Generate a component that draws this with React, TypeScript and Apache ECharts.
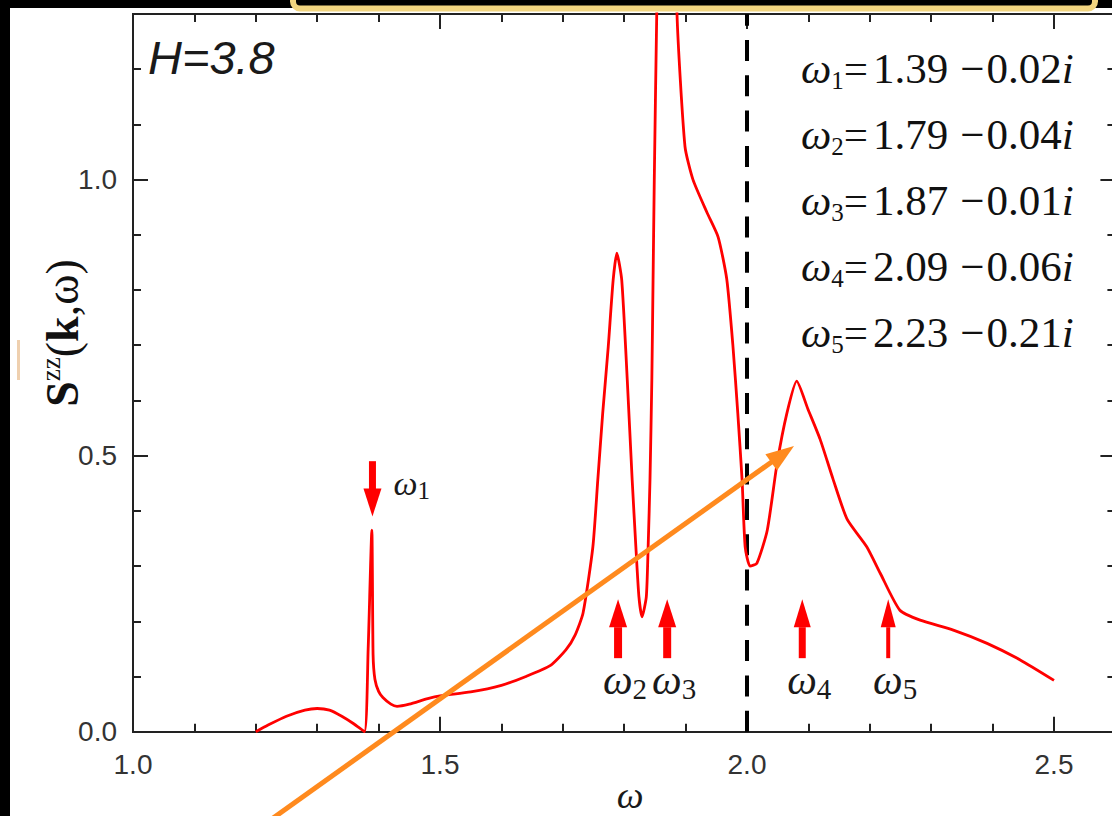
import React, { useEffect, useRef } from "react";
import * as echarts from "echarts";

// ---- data ----
const omega = [
  1.2, 1.22, 1.25, 1.28, 1.3, 1.32, 1.34, 1.36, 1.377, 1.383, 1.389, 1.391, 1.394, 1.4, 1.407,
  1.42, 1.43, 1.45, 1.48, 1.5, 1.55, 1.6, 1.64, 1.68, 1.705, 1.72, 1.733, 1.749, 1.757, 1.765,
  1.774, 1.782, 1.788, 1.796, 1.805, 1.813, 1.819, 1.824, 1.829, 1.836, 1.839, 1.842, 1.845,
  1.847, 1.849, 1.853, 1.868, 1.886, 1.899, 1.912, 1.935, 1.953, 1.967, 1.977, 1.985, 1.992,
  1.997, 2.005, 2.016, 2.033, 2.049, 2.065, 2.081, 2.099, 2.119, 2.14, 2.163, 2.195, 2.217,
  2.249, 2.282, 2.336, 2.391, 2.445, 2.5,
];
const szz = [
  0.0, 0.012, 0.028, 0.039, 0.042, 0.039, 0.028, 0.014, 0.0, 0.15, 0.365, 0.14, 0.095, 0.073, 0.062,
  0.05, 0.046, 0.05, 0.06, 0.065, 0.072, 0.084, 0.1, 0.12, 0.148, 0.175, 0.215, 0.335, 0.456, 0.577,
  0.697, 0.818, 0.867, 0.818, 0.637, 0.456, 0.335, 0.244, 0.208, 0.244, 0.335, 0.456, 0.637,
  0.818, 1.0, 1.3, 2.2, 1.3, 1.06, 1.0, 0.94, 0.896, 0.82, 0.7, 0.577, 0.456,
  0.335, 0.3, 0.305, 0.365, 0.486, 0.577, 0.635, 0.585, 0.53, 0.458, 0.385, 0.335, 0.287,
  0.22, 0.202, 0.184, 0.16, 0.13, 0.093,
];
const modeRe = [1.39, 1.79, 1.87, 2.09, 2.23];
const modeIm = [0.02, 0.04, 0.01, 0.06, 0.21];
const arrowTail = [0.49, 0.135, 0.135, 0.135, 0.135];
const arrowTip = [0.39, 0.24, 0.24, 0.24, 0.24];
const dividerOmega = 2.0;
const fieldLabel = "H=3.8";
const xRange = [1.0, 2.6];
const yRange = [0, 1.3];
const majorStep = 0.5;
const minorStep = 0.1;

// ---- styles ----
const RED = "#ff0000";
const AX = "#222222";
const shaftWidths = [7, 8, 8, 7, 4];
const headWidths = [18, 18, 18, 17, 15];
const HEAD_LEN = 28;
const SERIF = "Liberation Serif";
const SANS = "Liberation Sans";

function buildOption() {
  const gridRect = { left: 133, top: 14, width: 982.4, height: 717.7 };
  const tickStyle = { color: AX, width: 2 };
  const xBase = {
    type: "value",
    min: xRange[0],
    max: xRange[1],
    splitLine: { show: false },
    axisLine: { show: true, onZero: false, lineStyle: { color: AX, width: 2 } },
  };
  const yBase = {
    type: "value",
    min: yRange[0],
    max: yRange[1],
    splitLine: { show: false },
    axisLine: { show: true, onZero: false, lineStyle: { color: AX, width: 2 } },
  };
  const labelStyle = {
    fontFamily: SANS,
    fontSize: 28,
    color: "#333",
    formatter: (v: number) => v.toFixed(1),
  };
  const xAxis = [
    {
      ...xBase,
      position: "bottom",
      interval: majorStep,
      axisTick: { show: true, inside: true, length: 15, lineStyle: tickStyle },
      axisLabel: { ...labelStyle, show: true, showMaxLabel: false, margin: 19 },
      name: "ω",
      nameLocation: "middle",
      nameGap: 53,
      nameMoveOverlap: false,
      nameTextStyle: {
        fontFamily: SERIF,
        fontStyle: "italic",
        fontSize: 38,
        lineHeight: 20,
        verticalAlign: "top",
        color: "#1a1a1a",
        padding: [0, 0, 0, 12],
      },
    },
    {
      ...xBase,
      position: "bottom",
      interval: minorStep,
      axisTick: { show: true, inside: true, length: 8, lineStyle: tickStyle },
      axisLabel: { show: false },
    },
    {
      ...xBase,
      position: "top",
      interval: majorStep,
      axisTick: { show: true, inside: true, length: 15, lineStyle: tickStyle },
      axisLabel: { show: false },
    },
    {
      ...xBase,
      position: "top",
      interval: minorStep,
      axisTick: { show: true, inside: true, length: 8, lineStyle: tickStyle },
      axisLabel: { show: false },
    },
  ];
  const yAxis = [
    {
      ...yBase,
      position: "left",
      interval: majorStep,
      axisTick: { show: true, inside: true, length: 15, lineStyle: tickStyle },
      axisLabel: { ...labelStyle, show: true, showMaxLabel: false, margin: 16 },
    },
    {
      ...yBase,
      position: "left",
      interval: minorStep,
      axisTick: { show: true, inside: true, length: 8, lineStyle: tickStyle },
      axisLabel: { show: false },
    },
    {
      ...yBase,
      position: "right",
      interval: majorStep,
      axisTick: { show: true, inside: true, length: 15, lineStyle: tickStyle },
      axisLabel: { show: false },
    },
    {
      ...yBase,
      position: "right",
      interval: minorStep,
      axisTick: { show: true, inside: true, length: 8, lineStyle: tickStyle },
      axisLabel: { show: false },
    },
  ];

  const curve = omega.map((w, i) => [w, szz[i]]);
  const arrows = modeRe.map((w, i) => [w, arrowTail[i], arrowTip[i]]);

  const LF = 43;
  const legendRows = modeRe.map((re, i) => ({
    type: "text",
    z: 50,
    x: 801,
    y: 68 + i * 66,
    style: {
      text: `{w|ω}{s|${i + 1}}{e|=}{n|${re.toFixed(2)}}{m|−}{n|${modeIm[i].toFixed(2)}}{i|i}`,
      align: "left",
      verticalAlign: "middle",
      fill: "#111",
      rich: {
        w: { fontFamily: SERIF, fontStyle: "italic", fontSize: LF, lineHeight: 50, fill: "#111" },
        s: { fontFamily: SERIF, fontSize: 25, lineHeight: 10, verticalAlign: "bottom", fill: "#111" },
        e: { fontFamily: SERIF, fontSize: LF, lineHeight: 50, fill: "#111", padding: [0, 5, 0, 0] },
        n: { fontFamily: SERIF, fontSize: LF, lineHeight: 50, fill: "#111" },
        m: { fontFamily: SERIF, fontSize: LF, lineHeight: 50, fill: "#111", padding: [0, 2, 0, 12] },
        i: { fontFamily: SERIF, fontStyle: "italic", fontSize: LF, lineHeight: 50, fill: "#111" },
      },
    },
  }));

  // orange overlay arrow (pixel annotation)
  const a0 = [262, 826];
  const a1 = [794, 446];
  const len = Math.hypot(a1[0] - a0[0], a1[1] - a0[1]);
  const d = [(a1[0] - a0[0]) / len, (a1[1] - a0[1]) / len];
  const nrm = [-d[1], d[0]];
  const base = [a1[0] - 28 * d[0], a1[1] - 28 * d[1]];

  return {
    animation: false,
    backgroundColor: "#ffffff",
    grid: { ...gridRect, containLabel: false, outerBoundsMode: "none" },
    xAxis,
    yAxis,
    series: [
      {
        type: "line",
        data: curve,
        xAxisIndex: 0,
        yAxisIndex: 0,
        symbol: "none",
        smooth: 0.2,
        clip: true,
        lineStyle: { color: RED, width: 2.8 },
        z: 4,
      },
      {
        type: "line",
        data: [
          [dividerOmega, yRange[0]],
          [dividerOmega, yRange[1]],
        ],
        xAxisIndex: 0,
        yAxisIndex: 0,
        symbol: "none",
        lineStyle: { color: "#000", width: 4, type: [21, 14.3] },
        z: 3,
      },
      {
        type: "custom",
        coordinateSystem: "cartesian2d",
        xAxisIndex: 0,
        yAxisIndex: 0,
        data: arrows,
        clip: false,
        z: 5,
        renderItem: (params: any, api: any) => {
          const i = params.dataIndex;
          const w = api.value(0);
          const tail = api.coord([w, api.value(1)]);
          const tip = api.coord([w, api.value(2)]);
          const dir = tip[1] > tail[1] ? 1 : -1;
          const hb = tip[1] - dir * HEAD_LEN;
          const sw = shaftWidths[i];
          const hw = headWidths[i];
          const down = dir === 1;
          const fs = down ? 34 : 42;
          const ss = down ? 25 : 29;
          const label = {
            type: "text",
            x: down ? tip[0] + 21 : tip[0] - fs * 0.36,
            y: down ? (tail[1] + tip[1]) / 2 - 5 : tail[1] + 23,
            style: {
              text: `{w|ω}{s|${i + 1}}`,
              align: "left",
              verticalAlign: "middle",
              fill: "#111",
              rich: {
                w: { fontFamily: SERIF, fontStyle: "italic", fontSize: fs, lineHeight: fs + 4, fill: "#1a1a1a" },
                s: {
                  fontFamily: SERIF,
                  fontSize: ss,
                  lineHeight: down ? 8 : 12,
                  verticalAlign: "bottom",
                  fill: "#1a1a1a",
                },
              },
            },
          };
          return {
            type: "group",
            children: [
              {
                type: "rect",
                shape: { x: tip[0] - sw / 2, y: Math.min(tail[1], hb), width: sw, height: Math.abs(hb - tail[1]) + 1 },
                style: { fill: RED },
              },
              {
                type: "polygon",
                shape: {
                  points: [
                    [tip[0], tip[1]],
                    [tip[0] - hw / 2, hb],
                    [tip[0] + hw / 2, hb],
                  ],
                },
                style: { fill: RED },
              },
              label,
            ],
          };
        },
      },
    ],
    graphic: [
      { type: "rect", z: 60, shape: { x: 0, y: 0, width: 1112, height: 8 }, style: { fill: "#000" } },
      { type: "rect", z: 60, shape: { x: 0, y: 0, width: 10, height: 816 }, style: { fill: "#000" } },
      {
        type: "rect",
        z: 61,
        shape: { x: 293, y: -20, width: 802, height: 28.5, r: 7 },
        style: { fill: "#000", stroke: "#f2d580", lineWidth: 6 },
      },
      { type: "rect", z: 61, shape: { x: 17, y: 340, width: 3, height: 40 }, style: { fill: "rgba(225,170,110,0.55)" } },
      {
        type: "text",
        z: 50,
        x: 148,
        y: 57,
        style: {
          text: fieldLabel,
          font: `italic 47px "${SANS}"`,
          fill: "#1a1a1a",
          align: "left",
          verticalAlign: "middle",
        },
      },
      {
        type: "text",
        z: 50,
        x: 62,
        y: 333,
        rotation: Math.PI / 2,
        style: {
          text: "{b|S}{sup|zz}{r|(}{b|k}{r|,ω)}",
          align: "center",
          verticalAlign: "middle",
          fill: "#111",
          rich: {
            b: { fontFamily: SERIF, fontWeight: "bold", fontSize: 46, lineHeight: 50, fill: "#111" },
            sup: { fontFamily: SERIF, fontSize: 27, lineHeight: 34, verticalAlign: "top", fill: "#111" },
            r: { fontFamily: SERIF, fontSize: 46, lineHeight: 50, fill: "#111" },
          },
        },
      },
      ...legendRows,
      {
        type: "line",
        z: 70,
        shape: { x1: a0[0], y1: a0[1], x2: base[0] + 4 * d[0], y2: base[1] + 4 * d[1] },
        style: { stroke: "#ff8a1e", lineWidth: 5 },
      },
      {
        type: "polygon",
        z: 70,
        shape: {
          points: [
            [a1[0], a1[1]],
            [base[0] + 10 * nrm[0], base[1] + 10 * nrm[1]],
            [base[0] - 10 * nrm[0], base[1] - 10 * nrm[1]],
          ],
        },
        style: { fill: "#ff8a1e" },
      },
    ],
  };
}

export default function App() {
  const ref = useRef<HTMLDivElement>(null);
  useEffect(() => {
    if (!ref.current) return;
    const chart = echarts.init(ref.current, undefined, { renderer: "svg" });
    chart.setOption(buildOption() as any);
    return () => chart.dispose();
  }, []);
  return (
    <div
      ref={ref}
      style={{ position: "fixed", left: 0, top: 0, width: 1112, height: 816, background: "#fff" }}
    />
  );
}
